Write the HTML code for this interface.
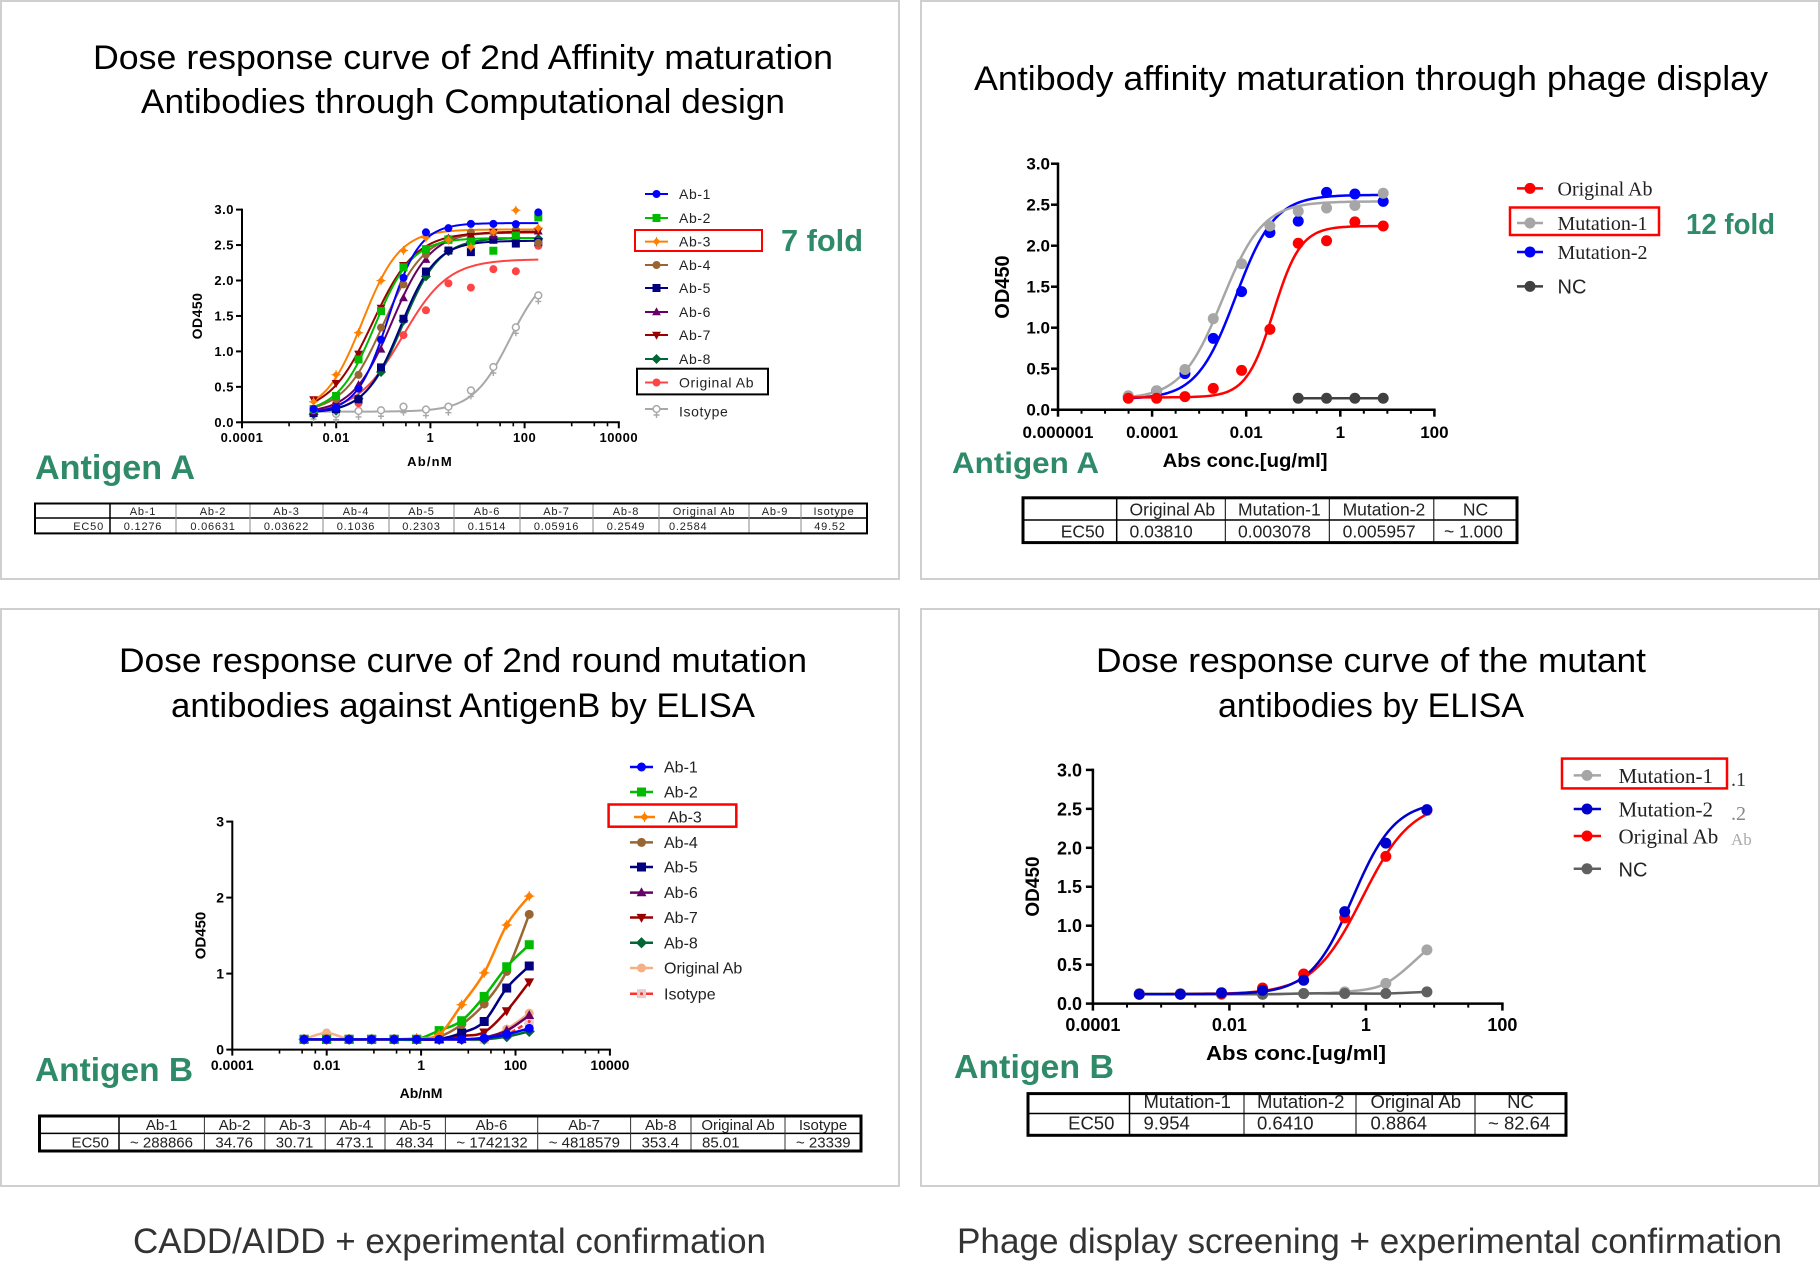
<!DOCTYPE html>
<html><head><meta charset="utf-8">
<style>
html,body{margin:0;padding:0;background:#fff;}
svg{display:block;}
text{font-family:"Liberation Sans",Arial,sans-serif;}
.sf{font-family:"Liberation Serif","Times New Roman",serif;}
</style></head><body>
<svg id="s" xmlns="http://www.w3.org/2000/svg" width="1820" height="1280" viewBox="0 0 1820 1280">
<rect width="1820" height="1280" fill="#fff"/>
<g fill="none" stroke="#cfcfcf" stroke-width="2">
<rect x="1" y="1" width="898" height="578"/>
<rect x="921" y="1" width="898" height="578"/>
<rect x="1" y="609" width="898" height="577"/>
<rect x="921" y="609" width="898" height="577"/>
</g>
<g id="dyn"></g>

<!-- Titles -->
<g fill="#000" font-size="34">
<text x="93" y="69" textLength="740" lengthAdjust="spacingAndGlyphs">Dose response curve of 2nd Affinity maturation</text>
<text x="141" y="113" textLength="644" lengthAdjust="spacingAndGlyphs">Antibodies through Computational design</text>
<text x="974" y="90" textLength="794" lengthAdjust="spacingAndGlyphs">Antibody affinity maturation through phage display</text>
<text x="119" y="672" textLength="688" lengthAdjust="spacingAndGlyphs">Dose response curve of 2nd round mutation</text>
<text x="171" y="717" textLength="584" lengthAdjust="spacingAndGlyphs">antibodies against AntigenB by ELISA</text>
<text x="1096" y="672" textLength="550" lengthAdjust="spacingAndGlyphs">Dose response curve of the mutant</text>
<text x="1218" y="717" textLength="306" lengthAdjust="spacingAndGlyphs">antibodies by ELISA</text>
</g>
<g fill="#333" font-size="35">
<text x="133" y="1253" textLength="633" lengthAdjust="spacingAndGlyphs">CADD/AIDD + experimental confirmation</text>
<text x="957" y="1253" textLength="825" lengthAdjust="spacingAndGlyphs">Phage display screening + experimental confirmation</text>
</g>

<!-- Green labels -->
<g fill="#2e8a68" font-weight="bold">
<text x="35" y="479" font-size="34" textLength="160" lengthAdjust="spacingAndGlyphs">Antigen A</text>
<text x="952" y="473" font-size="30" textLength="147" lengthAdjust="spacingAndGlyphs">Antigen A</text>
<text x="35" y="1081" font-size="33" textLength="158" lengthAdjust="spacingAndGlyphs">Antigen B</text>
<text x="954" y="1078" font-size="33" textLength="160" lengthAdjust="spacingAndGlyphs">Antigen B</text>
<text x="781" y="251" font-size="31" textLength="82" lengthAdjust="spacingAndGlyphs">7 fold</text>
<text x="1686" y="234" font-size="29" textLength="89" lengthAdjust="spacingAndGlyphs">12 fold</text>
</g>

<!-- Panel 1 axis labels -->
<g font-size="13" font-weight="bold" fill="#000" letter-spacing="0.5">
<g text-anchor="middle">
<text x="242" y="442">0.0001</text>
<text x="336.2" y="442">0.01</text>
<text x="430.4" y="442">1</text>
<text x="524.6" y="442">100</text>
<text x="618.8" y="442">10000</text>
</g>
<g text-anchor="end">
<text x="234" y="214">3.0</text>
<text x="234" y="249.5">2.5</text>
<text x="234" y="285">2.0</text>
<text x="234" y="320.5">1.5</text>
<text x="234" y="356">1.0</text>
<text x="234" y="391.3">0.5</text>
<text x="234" y="426.8">0.0</text>
</g>
<text x="430" y="466" text-anchor="middle" letter-spacing="1.2">Ab/nM</text>
<text transform="translate(197,316) rotate(-90)" text-anchor="middle" dy="5" font-size="14">OD450</text>
</g>
<!-- Panel 1 legend -->
<g font-size="14" fill="#222" letter-spacing="0.6">
<text x="679" y="199">Ab-1</text>
<text x="679" y="223">Ab-2</text>
<text x="679" y="246.6">Ab-3</text>
<text x="679" y="270">Ab-4</text>
<text x="679" y="293">Ab-5</text>
<text x="679" y="317">Ab-6</text>
<text x="679" y="340">Ab-7</text>
<text x="679" y="364">Ab-8</text>
<text x="679" y="387.5">Original Ab</text>
<text x="679" y="416.6">Isotype</text>
</g>
<!-- Panel 1 table -->
<g font-size="11" fill="#222" letter-spacing="0.8">
<g text-anchor="middle">
<text x="143" y="515">Ab-1</text>
<text x="213" y="515">Ab-2</text>
<text x="286.5" y="515">Ab-3</text>
<text x="356" y="515">Ab-4</text>
<text x="421.5" y="515">Ab-5</text>
<text x="487" y="515">Ab-6</text>
<text x="556.5" y="515">Ab-7</text>
<text x="626" y="515">Ab-8</text>
<text x="704" y="515">Original Ab</text>
<text x="775" y="515">Ab-9</text>
<text x="834" y="515">Isotype</text>
<text x="143" y="530">0.1276</text>
<text x="213" y="530">0.06631</text>
<text x="286.5" y="530">0.03622</text>
<text x="356" y="530">0.1036</text>
<text x="421.5" y="530">0.2303</text>
<text x="487" y="530">0.1514</text>
<text x="556.5" y="530">0.05916</text>
<text x="626" y="530">0.2549</text>
<text x="830" y="530">49.52</text>
</g>
<text x="669" y="530">0.2584</text>
<text x="104" y="530" text-anchor="end">EC50</text>
</g>

<!-- Panel 2 axis labels -->
<g font-size="17" font-weight="bold" fill="#000">
<g text-anchor="middle">
<text x="1058" y="438">0.000001</text>
<text x="1152.1" y="438">0.0001</text>
<text x="1246.2" y="438">0.01</text>
<text x="1340.3" y="438">1</text>
<text x="1434.4" y="438">100</text>
</g>
<g text-anchor="end">
<text x="1050" y="169.7">3.0</text>
<text x="1050" y="210.7">2.5</text>
<text x="1050" y="251.7">2.0</text>
<text x="1050" y="292.7">1.5</text>
<text x="1050" y="333.7">1.0</text>
<text x="1050" y="374.7">0.5</text>
<text x="1050" y="415.7">0.0</text>
</g>
<text x="1162.6" y="467" font-size="19" textLength="165" lengthAdjust="spacingAndGlyphs">Abs conc.[ug/ml]</text>
<text transform="translate(1002,287) rotate(-90)" text-anchor="middle" dy="7" font-size="20">OD450</text>
</g>
<!-- Panel 2 legend -->
<g font-size="20" fill="#222">
<text class="sf" x="1557.5" y="195.4">Original Ab</text>
<text class="sf" x="1557.5" y="230">Mutation-1</text>
<text class="sf" x="1557.5" y="259">Mutation-2</text>
<text x="1557.5" y="293.4">NC</text>
</g>
<!-- Panel 2 table -->
<g font-size="17.5" fill="#222">
<text x="1129.5" y="515.5">Original Ab</text>
<text x="1238" y="515.5">Mutation-1</text>
<text x="1342.6" y="515.5">Mutation-2</text>
<text x="1475.5" y="515.5" text-anchor="middle">NC</text>
<text x="1104.5" y="537.5" text-anchor="end">EC50</text>
<text x="1129.5" y="537.5">0.03810</text>
<text x="1238" y="537.5">0.003078</text>
<text x="1342.6" y="537.5">0.005957</text>
<text x="1444" y="537.5">~ 1.000</text>
</g>

<!-- Panel 3 axis labels -->
<g font-size="14" font-weight="bold" fill="#000">
<g text-anchor="middle">
<text x="232.3" y="1070">0.0001</text>
<text x="326.7" y="1070">0.01</text>
<text x="421.1" y="1070">1</text>
<text x="515.5" y="1070">100</text>
<text x="609.9" y="1070">10000</text>
</g>
<g text-anchor="end">
<text x="224" y="826.6">3</text>
<text x="224" y="902.6">2</text>
<text x="224" y="978.6">1</text>
<text x="224" y="1054.6">0</text>
</g>
<text x="421" y="1098" text-anchor="middle">Ab/nM</text>
<text transform="translate(200,935.5) rotate(-90)" text-anchor="middle" dy="5.5" font-size="15">OD450</text>
</g>
<!-- Panel 3 legend -->
<g font-size="16" fill="#222">
<text x="664" y="772.6">Ab-1</text>
<text x="664" y="797.6">Ab-2</text>
<text x="668" y="822.6">Ab-3</text>
<text x="664" y="848">Ab-4</text>
<text x="664" y="872.6">Ab-5</text>
<text x="664" y="898.2">Ab-6</text>
<text x="664" y="923.1">Ab-7</text>
<text x="664" y="948.3">Ab-8</text>
<text x="664" y="973.6">Original Ab</text>
<text x="664" y="999.3">Isotype</text>
</g>
<!-- Panel 3 table -->
<g font-size="15" fill="#222">
<g text-anchor="middle">
<text x="161.7" y="1130">Ab-1</text>
<text x="234.6" y="1130">Ab-2</text>
<text x="295" y="1130">Ab-3</text>
<text x="355.1" y="1130">Ab-4</text>
<text x="415.2" y="1130">Ab-5</text>
<text x="491.5" y="1130">Ab-6</text>
<text x="584.1" y="1130">Ab-7</text>
<text x="660.8" y="1130">Ab-8</text>
<text x="738" y="1130">Original Ab</text>
<text x="823" y="1130">Isotype</text>
</g>
<text x="109" y="1147.5" text-anchor="end">EC50</text>
<text x="130" y="1147.5">~ 288866</text>
<text x="215.4" y="1147.5">34.76</text>
<text x="275.8" y="1147.5">30.71</text>
<text x="336.2" y="1147.5">473.1</text>
<text x="396" y="1147.5">48.34</text>
<text x="456.4" y="1147.5">~ 1742132</text>
<text x="548.7" y="1147.5">~ 4818579</text>
<text x="641.6" y="1147.5">353.4</text>
<text x="702" y="1147.5">85.01</text>
<text x="796" y="1147.5">~ 23339</text>
</g>

<!-- Panel 4 axis labels -->
<g font-size="18" font-weight="bold" fill="#000">
<g text-anchor="middle">
<text x="1092.9" y="1031">0.0001</text>
<text x="1229.4" y="1031">0.01</text>
<text x="1365.9" y="1031">1</text>
<text x="1502.4" y="1031">100</text>
</g>
<g text-anchor="end">
<text x="1082" y="776.4">3.0</text>
<text x="1082" y="815.3">2.5</text>
<text x="1082" y="854.3">2.0</text>
<text x="1082" y="893.2">1.5</text>
<text x="1082" y="932.2">1.0</text>
<text x="1082" y="971.1">0.5</text>
<text x="1082" y="1010.1">0.0</text>
</g>
<text x="1206" y="1060" font-size="20" textLength="180" lengthAdjust="spacingAndGlyphs">Abs conc.[ug/ml]</text>
<text transform="translate(1032,886.5) rotate(-90)" text-anchor="middle" dy="7" font-size="19">OD450</text>
</g>
<!-- Panel 4 legend -->
<g font-size="21" fill="#222">
<text class="sf" x="1618.5" y="782.9">Mutation-1</text>
<text class="sf" x="1618.5" y="816.5">Mutation-2</text>
<text class="sf" x="1618.5" y="843.5">Original Ab</text>
<text x="1618.5" y="876.3" font-size="20">NC</text>
</g>
<g font-size="20">
<text class="sf" x="1731" y="786" fill="#333">.1</text>
<text class="sf" x="1731" y="820" fill="#888">.2</text>
<text class="sf" x="1731" y="845" fill="#aaa" font-size="17">Ab</text>
</g>
<!-- Panel 4 table -->
<g font-size="18.5" fill="#222">
<text x="1143.5" y="1108">Mutation-1</text>
<text x="1257" y="1108">Mutation-2</text>
<text x="1370.5" y="1108">Original Ab</text>
<text x="1520.5" y="1108" text-anchor="middle">NC</text>
<text x="1114.4" y="1129.5" text-anchor="end">EC50</text>
<text x="1143.5" y="1129.5">9.954</text>
<text x="1257" y="1129.5">0.6410</text>
<text x="1370.5" y="1129.5">0.8864</text>
<text x="1488" y="1129.5">~ 82.64</text>
</g>
</svg>
<script>
(function(){
const g=[];
function ln(x1,y1,x2,y2,sw,c){g.push('<line x1="'+x1+'" y1="'+y1+'" x2="'+x2+'" y2="'+y2+'" stroke="'+(c||'#000')+'" stroke-width="'+sw+'"/>');}
function mk(t,x,y,c,r){
  let s='';
  if(t==='c') s='<circle cx="'+x+'" cy="'+y+'" r="'+r+'" fill="'+c+'"/>';
  else if(t==='s') s='<rect x="'+(x-r)+'" y="'+(y-r)+'" width="'+(2*r)+'" height="'+(2*r)+'" fill="'+c+'"/>';
  else if(t==='d'){const q=r*1.25;s='<polygon points="'+x+','+(y-q)+' '+(x+q)+','+y+' '+x+','+(y+q)+' '+(x-q)+','+y+'" fill="'+c+'"/>';}
  else if(t==='x'){const q=r*0.95;s='<polygon points="'+x+','+(y-q)+' '+(x+q)+','+y+' '+x+','+(y+q)+' '+(x-q)+','+y+'" fill="'+c+'"/><path d="M'+(x-r*1.15)+' '+y+'H'+(x+r*1.15)+'M'+x+' '+(y-r*1.15)+'V'+(y+r*1.15)+'" stroke="'+c+'" stroke-width="1"/>';}
  else if(t==='u') s='<polygon points="'+x+','+(y-r*1.2)+' '+(x+r*1.1)+','+(y+r*0.8)+' '+(x-r*1.1)+','+(y+r*0.8)+'" fill="'+c+'"/>';
  else if(t==='v') s='<polygon points="'+x+','+(y+r*1.2)+' '+(x+r*1.1)+','+(y-r*0.8)+' '+(x-r*1.1)+','+(y-r*0.8)+'" fill="'+c+'"/>';
  else if(t==='o') s='<circle cx="'+x+'" cy="'+y+'" r="'+(r*0.85)+'" fill="#fff" stroke="'+c+'" stroke-width="1.5"/><path d="M'+x+' '+(y+r*0.85)+'V'+(y+r+5)+'M'+(x-3)+' '+(y+r+2)+'H'+(x+3)+'" stroke="'+c+'" stroke-width="1.4"/>';
  else if(t==='q') s='<rect x="'+(x-r)+'" y="'+(y-r)+'" width="'+(2*r)+'" height="'+(2*r)+'" fill="#e6cccc"/><circle cx="'+x+'" cy="'+y+'" r="1.5" fill="#ff3030"/>';
  g.push(s);
}
function axis(x0,dec,lmin,lmax,y0,unit,ymax,ystep,minors,sw,tl,tm){
  const X=l=>x0+(l-lmin)*dec;
  g.push('<path d="M'+x0+' '+(y0-ymax*unit)+'V'+y0+'H'+X(lmax)+'" fill="none" stroke="#000" stroke-width="'+sw+'" stroke-linecap="square"/>');
  for(let v=0;v<=ymax+1e-6;v+=ystep){const y=y0-v*unit;ln(x0-tl,y,x0,y,sw);}
  for(let l=lmin;l<=lmax+1e-6;l+=2) ln(X(l),y0,X(l),y0+tl,sw);
  minors.forEach(l=>ln(X(l),y0,X(l),y0+tm,sw*0.8));
}
function fpl(b,t,le,h){return l=>b+(t-b)/(1+Math.pow(10,(le-l)*h));}
function curve(f,l1,l2,X,Y,c,sw,dash){
  let d='';
  for(let k=0;k<=90;k++){const l=l1+(l2-l1)*k/90;d+=(k?'L':'M')+X(l).toFixed(2)+' '+Y(f(l)).toFixed(2);}
  g.push('<path d="'+d+'" fill="none" stroke="'+c+'" stroke-width="'+sw+'"'+(dash?' stroke-dasharray="'+dash+'"':'')+'/>');
}
function spline(pts,c,sw,dash){
  let d='M'+pts[0][0].toFixed(2)+' '+pts[0][1].toFixed(2);
  for(let i=0;i<pts.length-1;i++){
    const p0=pts[i-1]||pts[i],p1=pts[i],p2=pts[i+1],p3=pts[i+2]||p2;
    const c1x=p1[0]+(p2[0]-p0[0])/6,c1y=p1[1]+(p2[1]-p0[1])/6,c2x=p2[0]-(p3[0]-p1[0])/6,c2y=p2[1]-(p3[1]-p1[1])/6;
    d+='C'+c1x.toFixed(2)+' '+c1y.toFixed(2)+' '+c2x.toFixed(2)+' '+c2y.toFixed(2)+' '+p2[0].toFixed(2)+' '+p2[1].toFixed(2);
  }
  g.push('<path d="'+d+'" fill="none" stroke="'+c+'" stroke-width="'+sw+'"'+(dash?' stroke-dasharray="'+dash+'"':'')+'/>');
}
function nz(i,s){const v=Math.sin(i*12.9898+s*78.233)*43758.5453;return (v-Math.floor(v)-0.5)*0.08;}
function rect(x,y,w,h,c,sw){g.push('<rect x="'+x+'" y="'+y+'" width="'+w+'" height="'+h+'" fill="none" stroke="'+c+'" stroke-width="'+sw+'"/>');}
function table(E,ys,osw,isw,vc){
  const x1=E[0],x2=E[E.length-1];
  ln(x1,ys[1],x2,ys[1],isw+0.5,'#000');
  for(let i=1;i<E.length-1;i++) ln(E[i],ys[0],E[i],ys[2],i===1?isw+0.5:isw,i===1?'#000':vc);
  rect(x1,ys[0],x2-x1,ys[2]-ys[0],'#000',osw);
}

/* ---------- Panel 1 ---------- */
const L1=i=>-2.48+0.4771*i;
const X1=l=>242+(l+4)*47.1, Y1=v=>422.3-v*70.9;
const minA=[-3,-2.52,-2.24,-1,-0.52,-0.24,1,1.48,1.76,3,3.48,3.76];
axis(242,47.1,-4,4,422.3,70.9,3,0.5,minA,2,6,4);
const P1=[
 ['#a8a8a8','o',fpl(0.15,2.2,1.69,1.1),[0.13,0.12,0.16,0.17,0.22,0.18,0.22,0.45,0.78,1.34,1.79]],
 ['#ff4444','c',fpl(0.13,2.3,Math.log10(0.2584),0.9),{2:0.27,4:1.23,5:1.58,6:1.96,7:1.90,8:2.16,9:2.13,10:2.49}],
 ['#006633','d',fpl(0.13,2.6,Math.log10(0.2549),1.1),{}],
 ['#000080','s',fpl(0.13,2.56,Math.log10(0.2303),1.15),{7:2.40}],
 ['#660066','u',fpl(0.13,2.69,Math.log10(0.1514),1.05),{}],
 ['#996633','c',fpl(0.13,2.68,Math.log10(0.1036),1.0),{10:2.53}],
 ['#990000','v',fpl(0.13,2.68,Math.log10(0.05916),0.95),{}],
 ['#00bb00','s',fpl(0.13,2.6,Math.log10(0.06631),1.1),{8:2.42,10:2.89}],
 ['#ff8000','x',fpl(0.13,2.72,Math.log10(0.03622),1.1),{6:2.57,7:2.47,8:2.69,9:2.99,10:2.74}],
 ['#0000ff','c',fpl(0.13,2.81,Math.log10(0.1276),1.3),{5:2.68,10:2.96}]
];
P1.forEach(s=>curve(s[2],L1(0),L1(10),X1,Y1,s[0],2));
P1.forEach((s,si)=>{for(let i=0;i<11;i++){let v;if(Array.isArray(s[3]))v=s[3][i];else v=(s[3][i]!==undefined)?s[3][i]:s[2](L1(i))+nz(i,si);mk(s[1],X1(L1(i)),Y1(v),s[0],4);}});
const LG1=[['#0000ff','c',194],['#00bb00','s',218],['#ff8000','x',241.6],['#996633','c',265],['#000080','s',288],['#660066','u',312],['#990000','v',335],['#006633','d',359],['#ff4444','c',382.5],['#a8a8a8','o',409]];
LG1.forEach(e=>{ln(645,e[2],668,e[2],2,e[0]);mk(e[1],656.5,e[2],e[0],4);});
rect(635,230,127,21,'#ff0000',2);
rect(637,368.7,131,25.7,'#000',2);
table([35,110,176,250,323,389,454,520,593,659,749,801,867],[503.5,518,533.4],2,1,'#888');

/* ---------- Panel 2 ---------- */
const L2=i=>-4.506+0.602*i;
const X2=l=>1058+(l+6)*47.05, Y2=v=>409.7-v*82;
axis(1058,47.05,-6,2,409.7,82,3,0.5,[-5.5,-5,-4.5,-3.5,-3,-2.5,-1.5,-1,-0.5,0.5,1,1.5],2.5,7,4);
const P2=[
 ['#0000ff',fpl(0.13,2.62,-2.225,1.05),[0.16,0.23,0.44,0.87,1.44,2.16,2.30,2.65,2.63,2.54]],
 ['#a6a6a6',fpl(0.13,2.54,-2.512,1.0),[0.17,0.23,0.49,1.11,1.78,2.24,2.42,2.46,2.49,2.64]],
 ['#ff0000',fpl(0.15,2.24,-1.419,1.5),[0.14,0.14,0.16,0.26,0.48,0.98,2.03,2.06,2.29,2.24]]
];
P2.forEach(s=>curve(s[1],L2(0),L2(9),X2,Y2,s[0],2.5));
P2.forEach(s=>{for(let i=0;i<10;i++)mk('c',X2(L2(i)),Y2(s[2][i]),s[0],5.5);});
ln(X2(L2(6)),Y2(0.14),X2(L2(9)),Y2(0.14),2.5,'#404040');
for(let i=6;i<10;i++)mk('c',X2(L2(i)),Y2(0.14),'#404040',5.5);
[['#ff0000',188.4],['#a6a6a6',223],['#0000ff',252],['#404040',286.4]].forEach(e=>{ln(1517,e[1],1543,e[1],2.5,e[0]);mk('c',1530,e[1],e[0],5.5);});
rect(1510,207.5,149,27.5,'#ff0000',2.5);
table([1023,1116.7,1225.3,1329.3,1433.8,1517],[497.8,520,542.6],3,1,'#000');

/* ---------- Panel 3 ---------- */
const X3=l=>232.3+(l+4)*47.2, Y3=v=>1049.6-v*76;
axis(232.3,47.2,-4,4,1049.6,76,3,1,minA,2,6,4);
const b=0.135;
function arr(o){const a=[];for(let i=0;i<11;i++)a.push(o[i]!==undefined?o[i]:b);return a;}
const P3=[
 ['#ff3030','q',arr({9:0.2,10:0.37}),'5 3'],
 ['#f4b183','c',arr({1:0.22,9:0.27,10:0.48})],
 ['#006633','d',arr({9:0.17,10:0.24})],
 ['#660066','u',arr({8:0.16,9:0.25,10:0.45})],
 ['#990000','v',arr({7:0.18,8:0.23,9:0.51,10:0.89})],
 ['#000080','s',arr({6:0.14,7:0.22,8:0.37,9:0.81,10:1.10})],
 ['#996633','c',arr({6:0.17,7:0.33,8:0.6,9:1.03,10:1.78})],
 ['#00bb00','s',arr({6:0.25,7:0.38,8:0.70,9:1.09,10:1.38})],
 ['#ff8000','x',arr({5:0.15,6:0.2,7:0.59,8:1.01,9:1.64,10:2.02})],
 ['#0000ff','c',arr({8:0.15,9:0.2,10:0.28})]
];
P3.forEach(s=>{const pts=s[2].map((v,i)=>[X3(L1(i)),Y3(v)]);spline(pts,s[0],2.5,s[3]);pts.forEach(p=>mk(s[1],p[0],p[1],s[0],4.5));});
const LG3=[['#0000ff','c',767],['#00bb00','s',792],['#ff8000','x',817],['#996633','c',842.4],['#000080','s',867],['#660066','u',892.6],['#990000','v',917.5],['#006633','d',942.7],['#f4b183','c',968],['#ff3030','q',993.7]];
LG3.forEach((e,i)=>{const a=i===2?634:630,c=i===2?655:653;ln(a,e[2],c,e[2],2.5,e[0]);mk(e[1],(a+c)/2,e[2],e[0],4.5);});
rect(608.6,804.5,127.7,22.2,'#ff0000',2.5);
table([39.5,119,204.4,264.8,325.2,385,445.4,537.7,630.6,691,785,861],[1116,1133.4,1151],3,1,'#333');

/* ---------- Panel 4 ---------- */
const L4=i=>-3.32+0.602*i;
const X4=l=>1092.9+(l+4)*68.25, Y4=v=>1003.6-v*77.9;
axis(1092.9,68.25,-4,2,1003.6,77.9,3,0.5,[-3.5,-3,-2.5,-1.5,-1,-0.5,0.5,1,1.5],2.5,7,4);
const gray4=[0.13,0.13,0.13,0.12,0.13,0.15,0.26,0.69], nc4=[0.12,0.12,0.12,0.12,0.13,0.13,0.13,0.15];
spline(gray4.map((v,i)=>[X4(L4(i)),Y4(v)]),'#a6a6a6',2.5);
spline(nc4.map((v,i)=>[X4(L4(i)),Y4(v)]),'#606060',2.5);
const P4=[
 ['#ff0000',fpl(0.12,2.6,-0.052,1.2),[0.12,0.12,0.13,0.2,0.38,1.1,1.89,2.48]],
 ['#0000cc',fpl(0.12,2.6,-0.193,1.4),[0.12,0.12,0.14,0.17,0.30,1.18,2.06,2.49]]
];
P4.forEach(s=>curve(s[1],L4(0),L4(7),X4,Y4,s[0],2.5));
gray4.forEach((v,i)=>mk('c',X4(L4(i)),Y4(v),'#a6a6a6',5.5));
nc4.forEach((v,i)=>mk('c',X4(L4(i)),Y4(v),'#606060',5.5));
P4.forEach(s=>s[2].forEach((v,i)=>mk('c',X4(L4(i)),Y4(v),s[0],5.5)));
[['#a6a6a6',775.4],['#0000cc',809],['#ff0000',836],['#606060',868.8]].forEach(e=>{ln(1573.7,e[1],1601,e[1],2.5,e[0]);mk('c',1587,e[1],e[0],5.5);});
rect(1562,758.6,165,29.8,'#ff0000',2.5);
table([1028,1129.5,1244,1356,1475,1566],[1093.6,1113.5,1135.3],3,1,'#000');

document.getElementById('dyn').innerHTML=g.join('');
})();
</script>
</body></html>
